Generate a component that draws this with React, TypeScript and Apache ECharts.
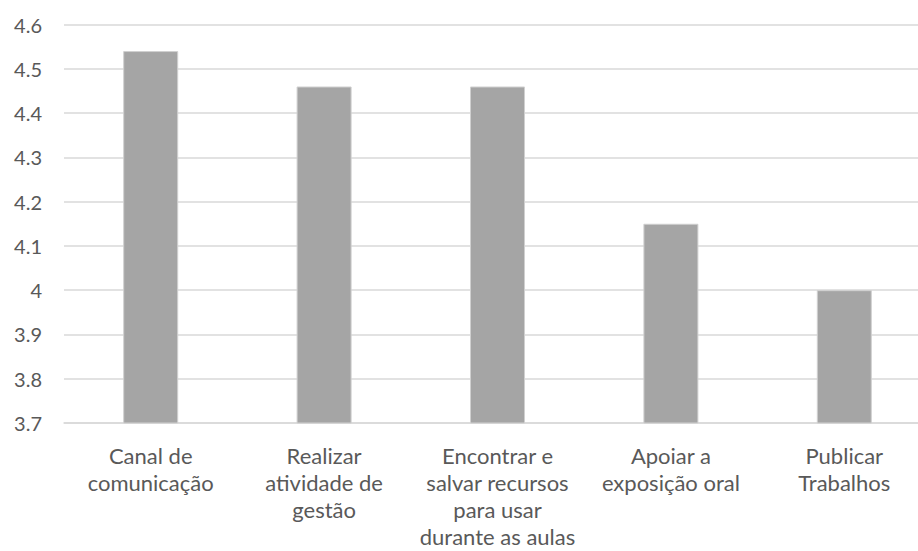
import React, { useEffect, useRef } from "react";
import * as echarts from "echarts";

const categories = [
  "Canal de\ncomunicação",
  "Realizar\natividade de\ngestão",
  "Encontrar e\nsalvar recursos\npara usar\ndurante as aulas",
  "Apoiar a\nexposição oral",
  "Publicar\nTrabalhos",
];
const values = [4.54, 4.46, 4.46, 4.15, 4.0];
const yMin = 3.7;
const yMax = 4.6;
const yStep = 0.1;

export default function App() {
  const ref = useRef<HTMLDivElement>(null);
  useEffect(() => {
    if (!ref.current) return;
    const chart = echarts.init(ref.current, null, { renderer: "svg" });
    chart.setOption({
      animation: false,
      backgroundColor: "#ffffff",
      grid: {
        left: 64,
        top: 24.5,
        width: 867,
        bottom: 128,
        containLabel: false,
        outerBoundsMode: "none",
      },
      xAxis: {
        type: "category",
        data: categories,
        axisLine: { show: true, lineStyle: { color: "#d9d9d9", width: 1.5 } },
        axisTick: { show: false },
        axisLabel: {
          interval: 0,
          margin: 19,
          color: "#595959",
          fontFamily: "Lato",
          fontSize: 22,
          lineHeight: 27,
          align: "center",
          verticalAlign: "top",
        },
      },
      yAxis: {
        type: "value",
        min: yMin,
        max: yMax,
        interval: yStep,
        axisLine: { show: false },
        axisTick: { show: false },
        splitLine: { lineStyle: { color: "#d9d9d9", width: 1.5 } },
        axisLabel: {
          margin: 22,
          color: "#595959",
          fontFamily: "Lato",
          fontSize: 20,
          formatter: (v: number) => String(parseFloat(v.toFixed(1))),
        },
      },
      series: [
        {
          type: "bar",
          data: values,
          barWidth: 55,
          itemStyle: { color: "#a5a5a5", borderColor: "#d0d0d0", borderWidth: 1 },
        },
      ],
    });
    return () => chart.dispose();
  }, []);
  return (
    <div
      ref={ref}
      style={{ position: "fixed", left: 0, top: 0, width: 918, height: 551 }}
    />
  );
}
